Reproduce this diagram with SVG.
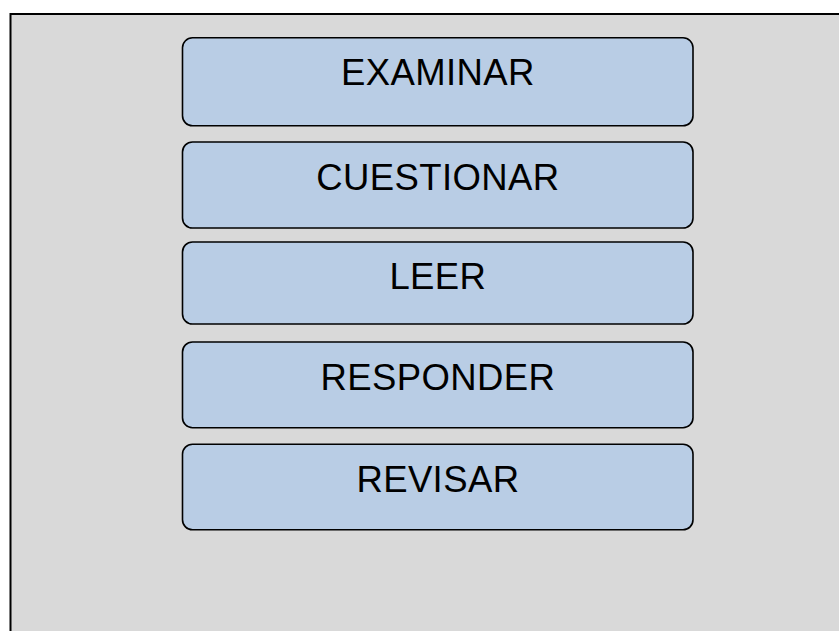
<svg xmlns="http://www.w3.org/2000/svg" width="839" height="631" viewBox="0 0 839 631">
<style>
.box{fill:#B9CDE5;stroke:#000;stroke-width:1.6}
.lbl{font-family:"Liberation Sans",Arial,sans-serif;font-size:36.5px;fill:#000;text-anchor:middle;letter-spacing:0.4px}
</style>
<rect x="0" y="0" width="839" height="631" fill="#fff"/>
<rect id="frame" x="10.5" y="14" width="840" height="630" fill="#D9D9D9" stroke="#000" stroke-width="2"/>
<g id="connectors"></g>
<g id="n1"><rect class="box" x="182.5" y="37.8" width="510.5" height="88" rx="10"/><text class="lbl" x="437.9" y="85.3">EXAMINAR</text></g>
<g id="n2"><rect class="box" x="182.5" y="142" width="510.5" height="86" rx="10"/><text class="lbl" x="437.9" y="190">CUESTIONAR</text></g>
<g id="n3"><rect class="box" x="182.5" y="242" width="510.5" height="82" rx="10"/><text class="lbl" x="437.9" y="288.5">LEER</text></g>
<g id="n4"><rect class="box" x="182.5" y="342" width="510.5" height="85.7" rx="10"/><text class="lbl" x="437.9" y="389.5">RESPONDER</text></g>
<g id="n5"><rect class="box" x="182.5" y="444.2" width="510.5" height="85.6" rx="10"/><text class="lbl" x="437.9" y="491.8">REVISAR</text></g>
</svg>
